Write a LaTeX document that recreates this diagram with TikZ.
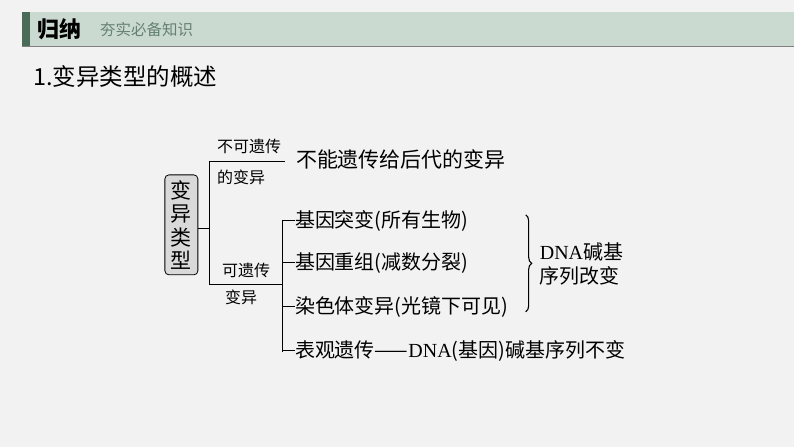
\documentclass[tikz,border=0pt]{standalone}
\usepackage{fontspec}
\setmainfont{Liberation Serif}
\newfontfamily\cjk{Noto Sans CJK SC}
\usetikzlibrary{positioning,decorations.pathreplacing}
\definecolor{bggray}{HTML}{F2F2F2}
\definecolor{darkgrn}{HTML}{4A6B58}
\definecolor{lightgrn}{HTML}{CBDAD1}
\definecolor{boxgray}{HTML}{D9D9D9}
\tikzset{
        item/.style={anchor=west, inner sep=0pt, font=\fontsize{20}{24}\selectfont\cjk},
        small/.style={anchor=west, inner sep=0pt, font=\fontsize{16}{18}\selectfont\cjk},
        branch/.style={line width=1.1pt}
}
\begin{document}
\begin{tikzpicture}[x=1pt, y=-1pt]

        % background and header
        \fill[bggray] (0,0) rectangle (794,447);
        \fill[lightgrn] (30,12) rectangle (794,46);
        \fill[darkgrn] (22,12) rectangle (30,46);
        \draw[gray, line width=1pt] (22,46.5) -- (794,46.5);
        \node[anchor=west, inner sep=0pt, font=\fontsize{22}{24}\selectfont\cjk\bfseries] (title) at (37,29) {归纳};
        \node[anchor=west, inner sep=0pt, text=darkgrn!85, font=\fontsize{15.5}{17}\selectfont\cjk] (sub) at (100,30) {夯实必备知识};
        \node[anchor=west, inner sep=0pt, font=\fontsize{23.5}{26}\selectfont\cjk] (head) at (33,77) {1.变异类型的概述};

        % root box
        \node[draw, rounded corners=4pt, fill=boxgray, line width=0.8pt, minimum width=33pt, minimum height=100pt,
                align=center, font=\fontsize{21}{23.5}\selectfont\cjk] (root) at (181.5,225) {变\\异\\类\\型};

        % first level
        \coordinate (fork) at (210,229);
        \coordinate (top) at (210,162);
        \coordinate (bot) at (210,285);
        \coordinate (topend) at (285,162);
        \coordinate (botend) at (283,285);
        \draw[branch] (root.east |- fork) -- (fork);
        \draw[branch] (topend) -- (top) -- (bot) -- (botend);
        \node[small] (nh1) at (217,147) {不可遗传};
        \node[small] (nh2) at (217,177) {的变异};
        \node[item, font=\fontsize{21}{23}\selectfont\cjk] (nhtext) at (296,160) {不能遗传给后代的变异};
        \node[small] (h1) at (222,271) {可遗传};
        \node[small] (h2) at (225,298) {变异};

        % second level
        \node[item] (gm) at (295,221) {基因突变(所有生物)};
        \node[item] (gr) at (295,263) {基因重组(减数分裂)};
        \node[item] (cv) at (295,307) {染色体变异(光镜下可见)};
        \node[item] (ep) at (295,351) {表观遗传——{\rmfamily DNA}(基因)碱基序列不变};
        \draw[branch] (283,220) -- (botend) -- (283,352);
        \foreach \n in {gm, gr, cv, ep}
        {
                \draw[branch] (\n.west) -- ++(-12,0);
        }

        % brace
        \draw[branch, decorate, decoration={brace, amplitude=6pt}] (526,215) -- (526,312);
        \node[item, align=left] (dna) at (540,264) {{\rmfamily DNA}碱基\\序列改变};

\end{tikzpicture}
\end{document}
